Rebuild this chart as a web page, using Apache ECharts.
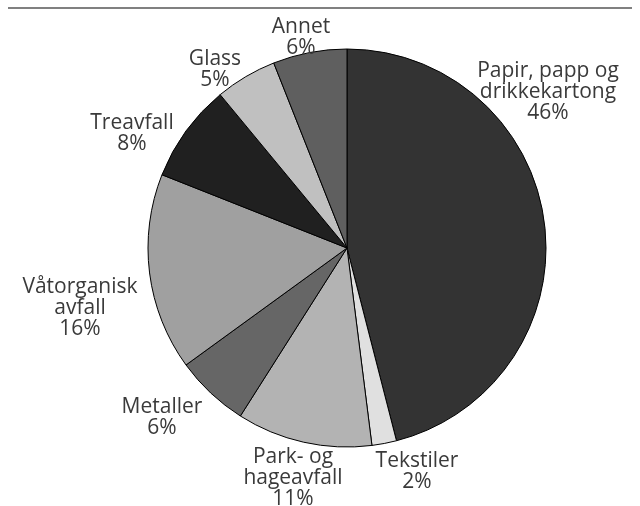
<!DOCTYPE html>
<html><head><meta charset="utf-8">
<script src="https://cdn.jsdelivr.net/npm/echarts@6/dist/echarts.min.js"></script>
<style>html,body{margin:0;padding:0;background:#fff}#c{width:640px;height:506px}</style>
</head><body><div id="c"></div>
<script>
const categories = ["Papir, papp og\ndrikkekartong", "Tekstiler", "Park- og\nhageavfall", "Metaller", "Våtorganisk\navfall", "Treavfall", "Glass", "Annet"];
const values = [46, 2, 11, 6, 16, 8, 5, 6];
const colors = ["#333333", "#e0e0e0", "#b3b3b3", "#666666", "#a0a0a0", "#202020", "#c0c0c0", "#5f5f5f"];
const labelPos = [[548, 92], [417, 472], [293, 478], [162, 418], [80, 308], [132, 134], [215, 70], [301, 38]];

const chart = echarts.init(document.getElementById('c'), null, {renderer: 'canvas'});
chart.setOption({
  animation: false,
  graphic: [{type: 'line', shape: {x1: 8, y1: 8, x2: 632, y2: 8}, style: {stroke: '#808080', lineWidth: 2}}],
  series: [{
    type: 'pie',
    center: [347, 248],
    radius: [0, 199],
    startAngle: 90,
    clockwise: true,
    avoidLabelOverlap: false,
    itemStyle: {borderColor: '#000', borderWidth: 1},
    label: {
      show: true,
      position: 'outside',
      formatter: p => p.name + '\n' + p.value + '%',
      fontFamily: 'Open Sans',
      fontSize: 21,
      lineHeight: 21,
      color: '#3a3a3a',
      align: 'center',
      overflow: 'none',
      width: 220
    },
    labelLine: {show: false},
    labelLayout: p => ({x: labelPos[p.dataIndex][0], y: labelPos[p.dataIndex][1], align: 'center', verticalAlign: 'middle'}),
    emphasis: {disabled: true},
    data: categories.map((c, i) => ({name: c, value: values[i], itemStyle: {color: colors[i]}}))
  }]
});
</script></body></html>
